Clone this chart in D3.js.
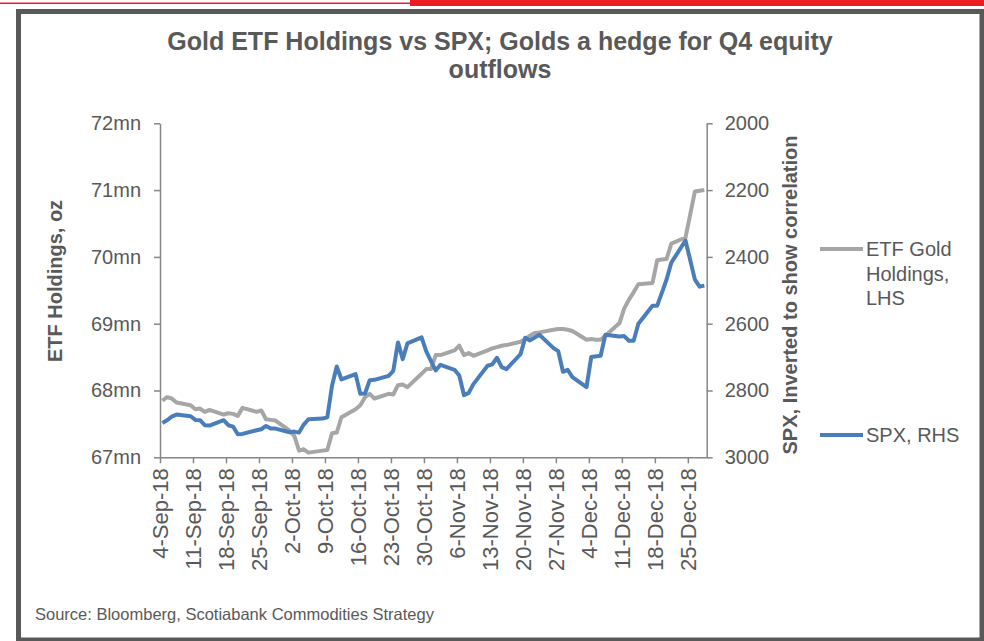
<!DOCTYPE html>
<html>
<head>
<meta charset="utf-8">
<script src="https://cdnjs.cloudflare.com/ajax/libs/d3/7.8.5/d3.min.js"></script>
<style>
    body { margin: 0; background: #fff; }
    text { font-family: "Liberation Sans", Arial, sans-serif; fill: #595959; }
</style>
</head>
<body>
<svg id="chart" width="984" height="641"></svg>
<script>
// trading days shown on the chart
var dates = [
    "2018-09-04", "2018-09-05", "2018-09-06", "2018-09-07",
    "2018-09-10", "2018-09-11", "2018-09-12", "2018-09-13", "2018-09-14",
    "2018-09-17", "2018-09-18", "2018-09-19", "2018-09-20", "2018-09-21",
    "2018-09-24", "2018-09-25", "2018-09-26", "2018-09-27", "2018-09-28",
    "2018-10-01", "2018-10-02", "2018-10-03", "2018-10-04", "2018-10-05",
    "2018-10-08", "2018-10-09", "2018-10-10", "2018-10-11", "2018-10-12",
    "2018-10-15", "2018-10-16", "2018-10-17", "2018-10-18", "2018-10-19",
    "2018-10-22", "2018-10-23", "2018-10-24", "2018-10-25", "2018-10-26",
    "2018-10-29", "2018-10-30", "2018-10-31", "2018-11-01", "2018-11-02",
    "2018-11-05", "2018-11-06", "2018-11-07", "2018-11-08", "2018-11-09",
    "2018-11-12", "2018-11-13", "2018-11-14", "2018-11-15", "2018-11-16",
    "2018-11-19", "2018-11-20", "2018-11-21", "2018-11-22", "2018-11-23",
    "2018-11-26", "2018-11-27", "2018-11-28", "2018-11-29", "2018-11-30",
    "2018-12-03", "2018-12-04", "2018-12-05", "2018-12-06", "2018-12-07",
    "2018-12-10", "2018-12-11", "2018-12-12", "2018-12-13", "2018-12-14",
    "2018-12-17", "2018-12-18", "2018-12-19", "2018-12-20", "2018-12-21",
    "2018-12-24", "2018-12-26", "2018-12-27", "2018-12-28"
];

// ETF gold holdings, mn oz (LHS)
var goldHoldings = [
    67.85, 67.90, 67.88, 67.82,
    67.78, 67.72, 67.73, 67.68, 67.71,
    67.64, 67.66, 67.65, 67.62, 67.74,
    67.68, 67.70, 67.57, 67.56, 67.55,
    67.40, 67.32, 67.10, 67.12, 67.07,
    67.10, 67.11, 67.36, 67.37, 67.60,
    67.72, 67.78, 67.90, 67.95, 67.88,
    67.95, 67.94, 68.08, 68.09, 68.05,
    68.25, 68.32, 68.32, 68.53, 68.53,
    68.60, 68.67, 68.53, 68.56, 68.52,
    68.60, 68.63, 68.65, 68.67, 68.68,
    68.73, 68.77, 68.82, 68.86, 68.87,
    68.91, 68.92, 68.92, 68.91, 68.89,
    68.76, 68.77, 68.76, 68.76, 68.82,
    69.01, 69.23, 69.36, 69.47, 69.59,
    69.61, 69.95, 69.96, 69.97, 70.20,
    70.29, 70.98, 70.99, 71.00
];

// SPX close (RHS, inverted); null = market closed
var spxClose = [
    2897, 2889, 2878, 2872,
    2877, 2888, 2889, 2904, 2905,
    2889, 2904, 2908, 2931, 2930,
    2919, 2916, 2906, 2914, 2914,
    2925, 2923, 2926, 2902, 2886,
    2884, 2880, 2786, 2728, 2767,
    2751, 2810, 2809, 2769, 2768,
    2756, 2741, 2656, 2706, 2659,
    2641, 2683, 2712, 2740, 2723,
    2738, 2755, 2814, 2807, 2781,
    2726, 2722, 2702, 2730, 2736,
    2691, 2642, 2650, null, 2633,
    2673, 2682, 2744, 2738, 2760,
    2790, 2700, null, 2696, 2633,
    2638, 2637, 2651, 2651, 2600,
    2546, 2546, 2507, 2467, 2417,
    2351, 2468, 2489, 2486
];

var xTickLabels = ["4-Sep-18", "11-Sep-18", "18-Sep-18", "25-Sep-18", "2-Oct-18", "9-Oct-18",
    "16-Oct-18", "23-Oct-18", "30-Oct-18", "6-Nov-18", "13-Nov-18", "20-Nov-18", "27-Nov-18",
    "4-Dec-18", "11-Dec-18", "18-Dec-18", "25-Dec-18"];
var leftTicks = [67, 68, 69, 70, 71, 72];
var rightTicks = [2000, 2200, 2400, 2600, 2800, 3000];

var svg = d3.select("#chart");
var parseDay = d3.timeParse("%Y-%m-%d");
var parseTick = d3.timeParse("%d-%b-%y");

var grey = "#a6a6a6";
var blue = "#4a7ebb";
var axisCol = "#868686";

//outer frame + red strip
svg.append("rect").attr("x", 0).attr("y", 2.5).attr("width", 410).attr("height", 1.5).attr("fill", "#ed1c24");
svg.append("rect").attr("x", 410).attr("y", 0).attr("width", 574).attr("height", 6).attr("fill", "#ed1c24");
svg.append("rect").attr("x", 18.5).attr("y", 11.5).attr("width", 963.5).attr("height", 628.5)
    .attr("fill", "none").attr("stroke", "#595959").attr("stroke-width", 5);

//scales
var x = d3.scaleTime()
    .domain([parseDay("2018-09-04"), parseDay("2018-12-29")])
    .range([160, 706.7]);
var yL = d3.scaleLinear().domain([67, 72]).range([457.3, 123.3]);
var yR = d3.scaleLinear().domain([2000, 3000]).range([123.3, 457.3]);

//points sit in the middle of their day slot
var rows = dates.map(function (d, i) {
    return {date: d3.timeHour.offset(parseDay(d), 12), gold: goldHoldings[i], spx: spxClose[i]};
});

//axes
var gx = svg.append("g").attr("transform", "translate(0,457.3)")
    .call(d3.axisBottom(x).tickValues(xTickLabels.map(parseTick))
        .tickFormat(d3.timeFormat("%-d-%b-%y")).tickSize(6).tickSizeOuter(0));
gx.selectAll("text")
    .attr("transform", "rotate(-90)")
    .attr("x", -11).attr("y", 0).attr("dy", "0.35em")
    .style("text-anchor", "end").style("font-size", "22px");

var gl = svg.append("g").attr("transform", "translate(160,0)")
    .call(d3.axisLeft(yL).tickValues(leftTicks).tickFormat(function (d) { return d + "mn"; })
        .tickSize(6).tickSizeOuter(0).tickPadding(13));
gl.selectAll("text").style("font-size", "20px");

var gr = svg.append("g").attr("transform", "translate(706.7,0)")
    .call(d3.axisRight(yR).tickValues(rightTicks).tickFormat(d3.format("d"))
        .tickSize(6).tickSizeOuter(0).tickPadding(12));
gr.selectAll("text").style("font-size", "20px");

svg.selectAll(".domain, .tick line").attr("stroke", axisCol).attr("stroke-width", 1.5);

//lines
var goldLine = d3.line()
    .x(function (d) { return x(d.date); })
    .y(function (d) { return yL(d.gold); });
var spxLine = d3.line()
    .x(function (d) { return x(d.date); })
    .y(function (d) { return yR(d.spx); });

svg.append("path").datum(rows.filter(function (d) { return d.gold != null; }))
    .attr("d", goldLine).attr("fill", "none").attr("stroke", grey)
    .attr("stroke-width", 4).attr("stroke-linejoin", "round");
svg.append("path").datum(rows.filter(function (d) { return d.spx != null; }))
    .attr("d", spxLine).attr("fill", "none").attr("stroke", blue)
    .attr("stroke-width", 4).attr("stroke-linejoin", "round");

//titles
var title = svg.append("text").attr("x", 500).attr("text-anchor", "middle")
    .style("font-size", "25px").style("font-weight", "bold");
title.append("tspan").attr("x", 500).attr("y", 50).text("Gold ETF Holdings vs SPX; Golds a hedge for Q4 equity");
title.append("tspan").attr("x", 500).attr("y", 78).text("outflows");

svg.append("text").attr("transform", "translate(62,281) rotate(-90)")
    .attr("text-anchor", "middle").style("font-size", "20px").style("font-weight", "bold")
    .text("ETF Holdings, oz");
svg.append("text").attr("transform", "translate(797,295) rotate(-90)")
    .attr("text-anchor", "middle").style("font-size", "20px").style("font-weight", "bold")
    .text("SPX, Inverted to show correlation");

//legend
var legend = [
    {lines: ["ETF Gold", "Holdings,", "LHS"], color: grey, y: 249},
    {lines: ["SPX, RHS"], color: blue, y: 435}
];
legend.forEach(function (l) {
    svg.append("line").attr("x1", 820).attr("x2", 863).attr("y1", l.y).attr("y2", l.y)
        .attr("stroke", l.color).attr("stroke-width", 4);
    var t = svg.append("text").style("font-size", "20px");
    l.lines.forEach(function (s, i) {
        t.append("tspan").attr("x", 866).attr("y", l.y + 7 + i * 24.5).text(s);
    });
});

svg.append("text").attr("x", 35).attr("y", 620).style("font-size", "16.5px")
    .text("Source: Bloomberg, Scotiabank Commodities Strategy");
</script>
</body>
</html>
